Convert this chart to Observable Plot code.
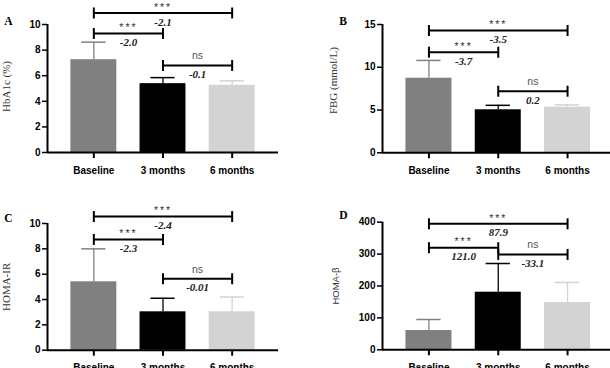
<!DOCTYPE html>
<html><head><meta charset="utf-8">
<script src="https://cdn.jsdelivr.net/npm/d3@7"></script>
<script src="https://cdn.jsdelivr.net/npm/@observablehq/plot@0.6"></script>
<style>
html,body{margin:0;padding:0;background:#fff;}
#wrap{position:relative;width:610px;height:368px;overflow:hidden;background:#fff;}
.p{position:absolute;width:305px;height:184px;}
.p svg{overflow:visible !important;display:block;}
</style></head><body><div id="wrap"></div>
<script>
// ---- data ----
const groups = ["Baseline", "3 months", "6 months"];
const pairs = [[0, 2], [0, 1], [1, 2]];
const sigLabels = ["***", "***", "ns"];

const hba1cMean = [7.25, 5.38, 5.25];
const hba1cSD = [1.37, 0.47, 0.35];
const hba1cDiff = ["-2.1", "-2.0", "-0.1"];
const hba1cBracket = [10.9, 9.3, 6.8];
const hba1cTicks = [0, 2, 4, 6, 8, 10];

const fbgMean = [8.72, 5.03, 5.33];
const fbgSD = [2.08, 0.52, 0.27];
const fbgDiff = ["-3.5", "-3.7", "0.2"];
const fbgBracket = [14.3, 11.76, 7.2];
const fbgTicks = [0, 5, 10, 15];

const irMean = [5.4, 3.03, 3.03];
const irSD = [2.6, 1.07, 1.17];
const irDiff = ["-2.4", "-2.3", "-0.01"];
const irBracket = [10.55, 8.74, 5.64];
const irTicks = [0, 2, 4, 6, 8, 10];

const betaMean = [60.5, 180.6, 148];
const betaSD = [34.5, 89.9, 63];
const betaDiff = ["87.9", "121.0", "-33.1"];
const betaBracket = [395, 320, 299];
const betaTicks = [0, 100, 200, 300, 400];

// ---- styling ----
const barColors = ["#808080", "#000000", "#d3d3d3"];
const serif = "'Liberation Serif','Times New Roman',serif";
const sans = "'Liberation Sans',Arial,sans-serif";
const vbar = {draw(ctx, size) { const h = Math.sqrt(size / Math.PI); ctx.moveTo(0, -h); ctx.lineTo(0, h); }};

const panels = [
  {letter: "A", title: "HbA1c (%)", tFont: serif, tSize: 11, mean: hba1cMean, sd: hba1cSD, diff: hba1cDiff, bracket: hba1cBracket, yTicks: hba1cTicks,
   left: 0, top: 0, ml: 47, mt: 24, mb: 32, xEnd: 278, tdx: -41.5, tdy: -2, ldx: -39, ldy: -8},
  {letter: "B", title: "FBG (mmol/L)", tFont: serif, tSize: 11, mean: fbgMean, sd: fbgSD, diff: fbgDiff, bracket: fbgBracket, yTicks: fbgTicks,
   left: 305, top: 0, ml: 77, mt: 24, mb: 31.7, xEnd: 308.5, tdx: -49, tdy: -8, ldx: -39.5, ldy: -8},
  {letter: "C", title: "HOMA-IR", tFont: serif, tSize: 11, mean: irMean, sd: irSD, diff: irDiff, bracket: irBracket, yTicks: irTicks,
   left: 0, top: 184, ml: 47, mt: 39, mb: 18.3, xEnd: 278, tdx: -41.5, tdy: 0, ldx: -39, ldy: -9.7},
  {letter: "D", title: "HOMA-β", tFont: sans, tSize: 9.5, mean: betaMean, sd: betaSD, diff: betaDiff, bracket: betaBracket, yTicks: betaTicks,
   left: 305, top: 184, ml: 77, mt: 37.7, mb: 18.7, xEnd: 308.5, tdx: -47, tdy: 0, ldx: -39, ldy: -11.7}
];

const xDom = [-0.67, 2.67];
const hw = 0.332, cw = 0.175;

function makePanel(c) {
  const rows = groups.map((g, i) => ({i, g, mean: c.mean[i], top: c.mean[i] + c.sd[i], color: barColors[i]}));
  const comps = pairs.map(([a, b], k) => ({a, b, mid: (a + b) / 2, level: c.bracket[k], sig: sigLabels[k], diff: c.diff[k]}));
  const ends = comps.flatMap(d => [{x: d.a, y: d.level}, {x: d.b, y: d.level}]);
  const ymax = c.yTicks[c.yTicks.length - 1];
  return Plot.plot({
    width: 305, height: 184,
    marginLeft: c.ml, marginRight: Math.max(0, 305 - c.xEnd), marginTop: c.mt, marginBottom: c.mb,
    x: {domain: xDom, range: [c.ml, c.xEnd]},
    y: {domain: [0, ymax]},
    color: {type: "identity"},
    style: {fontFamily: sans, color: "#000", background: "transparent", overflow: "visible"},
    marks: [
      Plot.rectY(rows, {x1: d => d.i - hw, x2: d => d.i + hw, y1: 0, y2: "mean", fill: "color"}),
      Plot.ruleX(rows, {x: "i", y1: "mean", y2: "top", stroke: "color", strokeWidth: 1.3}),
      Plot.ruleY(rows, {x1: d => d.i - cw, x2: d => d.i + cw, y: "top", stroke: "color", strokeWidth: 1.5}),
      Plot.ruleY([0], {strokeWidth: 2}),
      Plot.ruleX([xDom[0]], {y1: 0, y2: ymax, strokeWidth: 2}),
      Plot.axisY({ticks: c.yTicks, tickSize: 5, tickPadding: 2, fontWeight: "bold", fontSize: 10, strokeWidth: 1.5, label: null}),
      Plot.axisX({ticks: [0, 1, 2], tickFormat: i => groups[i], tickSize: 6, tickPadding: 8, fontWeight: "bold", fontSize: 10, strokeWidth: 2, label: null}),
      Plot.ruleY(comps, {x1: "a", x2: "b", y: "level", strokeWidth: 2}),
      Plot.dot(ends, {x: "x", y: "y", symbol: vbar, r: 5.5, stroke: "black", strokeWidth: 2, fill: "none"}),
      Plot.text(comps.filter(d => d.sig !== "ns"), {x: "mid", y: "level", text: "sig", dy: -5.6, fontSize: 10.5, fill: "#333"}),
      Plot.text(comps.filter(d => d.sig === "ns"), {x: "mid", y: "level", text: "sig", dy: -9.5, fontSize: 10.5, fill: "#555"}),
      Plot.text(comps, {x: "mid", y: "level", text: "diff", dy: 9, fontFamily: serif, fontStyle: "italic", fontWeight: "bold", fontSize: 11, fill: "#222"}),
      Plot.text([c.title], {frameAnchor: "left", textAnchor: "middle", rotate: -90, dx: c.tdx, dy: c.tdy, text: d => d, fontFamily: c.tFont, fontSize: c.tSize, fill: "#333"}),
      Plot.text([c.letter], {frameAnchor: "top-left", textAnchor: "middle", dx: c.ldx, dy: c.ldy, text: d => d, fontFamily: serif, fontWeight: "bold", fontSize: 11.5, fill: "#000"})
    ]
  });
}

const wrap = document.getElementById("wrap");
for (const c of panels) {
  const div = document.createElement("div");
  div.className = "p";
  div.style.left = c.left + "px";
  div.style.top = c.top + "px";
  const svg = makePanel(c);
  svg.querySelectorAll("text").forEach(t => { if (t.textContent === "***") t.setAttribute("letter-spacing", "2"); });
  div.appendChild(svg);
  wrap.appendChild(div);
}
</script></body></html>
